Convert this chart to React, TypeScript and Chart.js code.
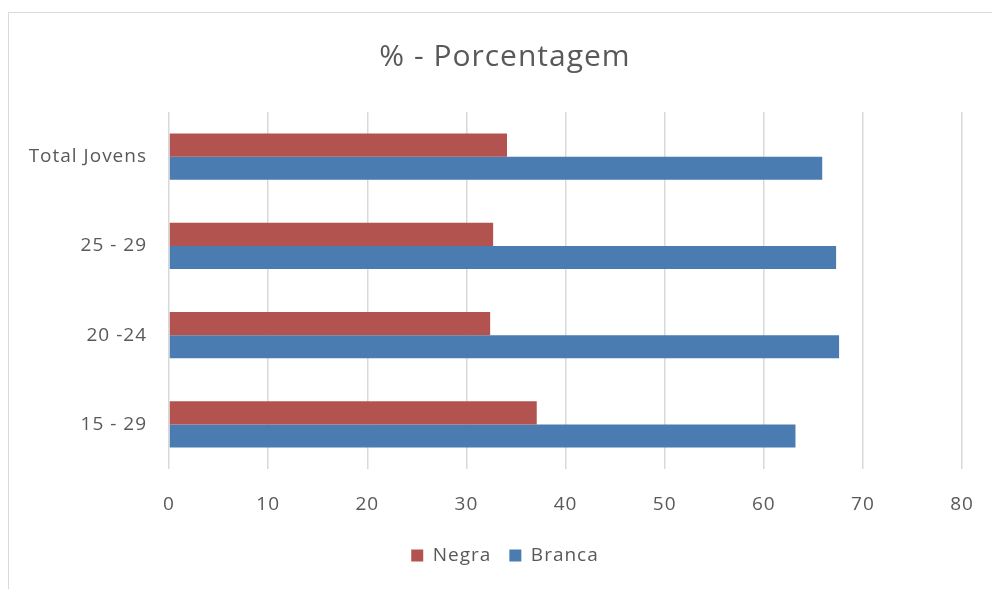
import React, { useEffect, useRef } from "react";
import { Chart, registerables } from "chart.js";

Chart.register(...registerables);

const categories = ["Total Jovens", "25 - 29", "20 -24", "15 - 29"];
const negraValues = [34.1, 32.7, 32.4, 37.1];
const brancaValues = [65.9, 67.3, 67.6, 63.2];
const seriesNames = ["Negra", "Branca"];
const xTicks = [0, 10, 20, 30, 40, 50, 60, 70, 80];

const FONT = "'Open Sans', sans-serif";
const TEXT = "#595959";

const spacingPlugin = {
  id: "spacing",
  beforeUpdate(chart: any) {
    chart.ctx.letterSpacing = "1px";
  },
  beforeDraw(chart: any) {
    chart.ctx.letterSpacing = "1px";
  },
};

export default function App() {
  const ref = useRef<HTMLCanvasElement | null>(null);
  useEffect(() => {
    if (!ref.current) return;
    const chart = new Chart(ref.current, {
      type: "bar",
      plugins: [spacingPlugin],
      data: {
        labels: categories,
        datasets: [
          {
            label: seriesNames[0],
            data: negraValues,
            backgroundColor: "#b3534f",
            categoryPercentage: 0.52,
            barPercentage: 1,
          },
          {
            label: seriesNames[1],
            data: brancaValues,
            backgroundColor: "#4a7cb2",
            categoryPercentage: 0.52,
            barPercentage: 1,
          },
        ],
      },
      options: {
        indexAxis: "y",
        animation: false,
        responsive: false,
        maintainAspectRatio: false,
        layout: { padding: { left: 10, right: 0, top: 13, bottom: 14 } },
        plugins: {
          title: {
            display: true,
            text: "% - Porcentagem",
            color: TEXT,
            font: { family: FONT, size: 30, weight: "normal" },
            padding: { top: 26, bottom: 37 },
          },
          legend: {
            position: "bottom",
            labels: {
              color: TEXT,
              font: { family: FONT, size: 19 },
              boxWidth: 12,
              boxHeight: 12,
              padding: 18,
            },
          },
          tooltip: { enabled: false },
        },
        scales: {
          x: {
            min: 0,
            max: 80,
            afterBuildTicks: (s: any) => {
              s.ticks = xTicks.map((v) => ({ value: v }));
            },
            grid: { color: "#d9d9d9", lineWidth: 1.5, drawTicks: false },
            border: { display: false },
            ticks: {
              color: TEXT,
              font: { family: FONT, size: 19 },
              padding: 24,
            },
            afterFit: (s: any) => {
              s.height = 59;
            },
          },
          y: {
            grid: { display: false, drawTicks: false },
            border: { display: false },
            ticks: {
              color: TEXT,
              font: { family: FONT, size: 19 },
              padding: 22,
            },
            afterFit: (s: any) => {
              s.width = 159;
            },
          },
          yRight: {
            type: "category",
            position: "right",
            labels: categories,
            grid: { display: false, drawTicks: false },
            border: { display: false },
            ticks: { display: false },
            afterFit: (s: any) => {
              s.width = 38;
            },
          },
        },
      },
    });
    return () => chart.destroy();
  }, []);
  return (
    <div style={{ position: "absolute", left: 0, top: 0, width: 992, height: 589, background: "#fff", overflow: "hidden" }}>
      <div
        style={{
          position: "absolute",
          left: 8,
          top: 12,
          width: 1100,
          height: 700,
          borderLeft: "1px solid #d9d9d9",
          borderTop: "1px solid #d9d9d9",
        }}
      />
      <canvas ref={ref} width={1000} height={589} style={{ position: "absolute", left: 0, top: 0 }} />
    </div>
  );
}
